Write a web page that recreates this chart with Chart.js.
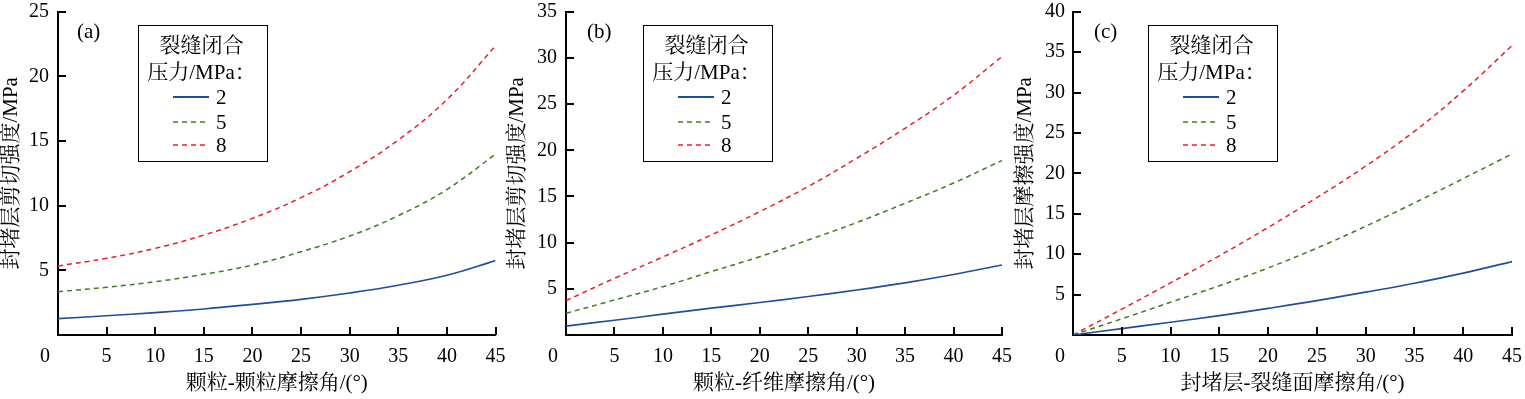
<!DOCTYPE html>
<html><head><meta charset="utf-8">
<script src="https://cdn.jsdelivr.net/npm/chart.js@4.4.1/dist/chart.umd.min.js"></script>
<style>
html,body{margin:0;padding:0;background:#fff;width:1525px;height:399px;overflow:hidden;position:relative;}
.panel{position:absolute;top:0;width:520px;height:399px;}
.tag{position:absolute;top:21px;font:21px/1 "Liberation Serif","Noto Serif CJK SC","Noto Sans CJK SC",serif;color:#000;}
.legend{position:absolute;top:25px;width:130px;height:137px;border:1.5px solid #000;box-sizing:border-box;background:#fff;color:#000;font-family:"Liberation Serif","Noto Serif CJK SC","Noto Sans CJK SC",serif;}
.legend .t{position:absolute;left:0;width:125px;text-align:center;font-size:21px;line-height:1;white-space:nowrap;}
.legend .row{position:absolute;left:0;width:128px;height:24px;}
.legend svg{position:absolute;left:34px;top:0;}
.legend .lab{position:absolute;left:77px;top:1px;font-size:21px;line-height:1;}
</style>
</head><body>
<div class="panel" style="left:0"><canvas id="ca" width="520" height="399"></canvas></div>
<div class="panel" style="left:505px"><canvas id="cb" width="520" height="399"></canvas></div>
<div class="panel" style="left:1005px"><canvas id="cc" width="520" height="399"></canvas></div>
<script>
// ---- data ----
const angles = [0, 5, 10, 15, 20, 25, 30, 35, 40, 45];
const pressureNames = ['2', '5', '8'];
const legendTitle = ['裂缝闭合', '压力/MPa：'];
const panelTags = ['(a)', '(b)', '(c)'];
const xTitles = ['颗粒-颗粒摩擦角/(°)', '颗粒-纤维摩擦角/(°)', '封堵层-裂缝面摩擦角/(°)'];
const yTitles = ['封堵层剪切强度/MPa', '封堵层剪切强度/MPa', '封堵层摩擦强度/MPa'];
const yMax = [25, 35, 40];

const aP2 = [1.26, 1.49, 1.73, 2.01, 2.37, 2.76, 3.25, 3.85, 4.62, 5.75];
const aP5 = [3.35, 3.69, 4.12, 4.69, 5.41, 6.44, 7.65, 9.23, 11.25, 13.99];
const aP8 = [5.34, 5.93, 6.70, 7.73, 9.02, 10.62, 12.63, 15.08, 18.20, 22.35];

const bP2 = [0.97, 1.60, 2.25, 2.90, 3.52, 4.17, 4.87, 5.65, 6.55, 7.58];
const bP5 = [2.35, 3.79, 5.23, 6.86, 8.48, 10.29, 12.17, 14.26, 16.45, 18.90];
const bP8 = [3.72, 6.14, 8.45, 10.83, 13.36, 16.08, 19.13, 22.38, 25.95, 30.14];

const cP2 = [0, 0.80, 1.58, 2.40, 3.30, 4.25, 5.30, 6.40, 7.65, 9.08];
const cP5 = [0, 2.00, 4.05, 6.10, 8.30, 10.75, 13.45, 16.35, 19.35, 22.40];
const cP8 = [0, 3.20, 6.45, 9.80, 13.30, 17.00, 20.90, 25.20, 30.20, 35.80];

// ---- styles ----
const colors = ['#1f4e9f', '#3c7d1e', '#e8202a'];
const dashes = [[], [5, 4], [5, 4]];
const widths = [1.7, 1.5, 1.5];
const serif = '"Liberation Serif", "Noto Serif CJK SC", "Noto Sans CJK SC", serif';

const panels = [
  {id: 'ca', series: [aP2, aP5, aP8], yWidth: 58, padRight: 24.5, yPad: 9, yTitlePad: 1, legendLeft: 138, tagLeft: 77},
  {id: 'cb', series: [bP2, bP5, bP8], yWidth: 61, padRight: 23, yPad: 9, yTitlePad: 1.5, legendLeft: 643, tagLeft: 587},
  {id: 'cc', series: [cP2, cP5, cP8], yWidth: 68, padRight: 13, yPad: 8, yTitlePad: 9.5, legendLeft: 1148, tagLeft: 1094}
];

const X_LABEL_PAD = 11.5;
const TICK_FONT = {family: serif, size: 20, lineHeight: 1};

function zeroPad(s) { s.paddingTop = 0; s.paddingBottom = 0; s.paddingLeft = 0; s.paddingRight = 0; }

const inwardTicks = {
  id: 'inwardTicks',
  afterDraw(chart) {
    const ctx = chart.ctx;
    const xs = chart.scales.x, ys = chart.scales.y;
    const {left, bottom} = chart.chartArea;
    ctx.save();
    ctx.strokeStyle = '#000';
    ctx.lineWidth = 2;
    ctx.beginPath();
    xs.ticks.forEach(t => {
      if (t.value === 0) return;
      const px = Math.round(xs.getPixelForValue(t.value));
      ctx.moveTo(px, bottom); ctx.lineTo(px, bottom - 8);
    });
    ys.ticks.forEach(t => {
      if (t.value === 0) return;
      const py = Math.round(ys.getPixelForValue(t.value));
      ctx.moveTo(left, py); ctx.lineTo(left + 8, py);
    });
    ctx.stroke();
    // the "0" of the x axis sits left of the origin
    ctx.fillStyle = '#000';
    ctx.font = '20px ' + serif;
    ctx.textAlign = 'center';
    ctx.textBaseline = 'middle';
    ctx.fillText('0', xs.getPixelForValue(0) - 13, xs.top + X_LABEL_PAD + 10);
    ctx.restore();
  }
};

panels.forEach((p, i) => {
  const datasets = p.series.map((vals, k) => ({
    label: pressureNames[k],
    data: angles.map((a, j) => ({x: a, y: vals[j]})),
    borderColor: colors[k],
    borderWidth: widths[k],
    borderDash: dashes[k],
    pointRadius: 0,
    fill: false,
    tension: 0.4
  }));
  new Chart(document.getElementById(p.id), {
    type: 'line',
    data: {datasets},
    options: {
      responsive: false,
      animation: false,
      devicePixelRatio: 1,
      layout: {padding: {left: 0, right: p.padRight, top: 11.7, bottom: 0}},
      plugins: {legend: {display: false}, tooltip: {enabled: false}},
      scales: {
        x: {
          type: 'linear', min: 0, max: 45,
          grid: {display: false, drawTicks: false},
          border: {display: true, color: '#000', width: 2},
          ticks: {stepSize: 5, color: '#000', font: TICK_FONT, padding: X_LABEL_PAD, maxRotation: 0,
                  callback: v => (v === 0 ? '' : String(v))},
          title: {display: true, text: xTitles[i], color: '#000',
                  font: {family: serif, size: 21, lineHeight: 1}, padding: {top: 0, bottom: 5.5}},
          afterFit: s => { s.height = 64; zeroPad(s); }
        },
        y: {
          type: 'linear', min: 0, max: yMax[i],
          grid: {display: false, drawTicks: false},
          border: {display: true, color: '#000', width: 2},
          ticks: {stepSize: 5, color: '#000', font: TICK_FONT, padding: p.yPad,
                  callback: v => (v === 0 ? '' : String(v))},
          title: {display: true, text: yTitles[i], color: '#000',
                  font: {family: serif, size: 21, lineHeight: 1}, padding: {top: p.yTitlePad, bottom: 0}},
          afterFit: s => { s.width = p.yWidth; zeroPad(s); }
        }
      }
    },
    plugins: [inwardTicks]
  });

  // panel tag
  const tag = document.createElement('div');
  tag.className = 'tag';
  tag.style.left = p.tagLeft + 'px';
  tag.textContent = panelTags[i];
  document.body.appendChild(tag);

  // legend box
  const lg = document.createElement('div');
  lg.className = 'legend';
  lg.style.left = p.legendLeft + 'px';
  const t1 = document.createElement('div');
  t1.className = 't'; t1.style.top = '9px'; t1.textContent = legendTitle[0];
  const t2 = document.createElement('div');
  t2.className = 't'; t2.style.top = '36px'; t2.textContent = legendTitle[1];
  lg.appendChild(t1); lg.appendChild(t2);
  const rowTops = [60, 85, 108];
  pressureNames.forEach((name, k) => {
    const row = document.createElement('div');
    row.className = 'row';
    row.style.top = rowTops[k] + 'px';
    const dash = dashes[k].length ? `stroke-dasharray="${dashes[k].join(' ')}"` : '';
    row.innerHTML = `<svg width="36" height="24"><line x1="0" y1="11" x2="36" y2="11" stroke="${colors[k]}" stroke-width="${k === 0 ? 2.2 : 1.6}" ${dash}/></svg>`;
    const lab = document.createElement('div');
    lab.className = 'lab';
    lab.textContent = name;
    row.appendChild(lab);
    lg.appendChild(row);
  });
  document.body.appendChild(lg);
});
</script>
</body></html>
